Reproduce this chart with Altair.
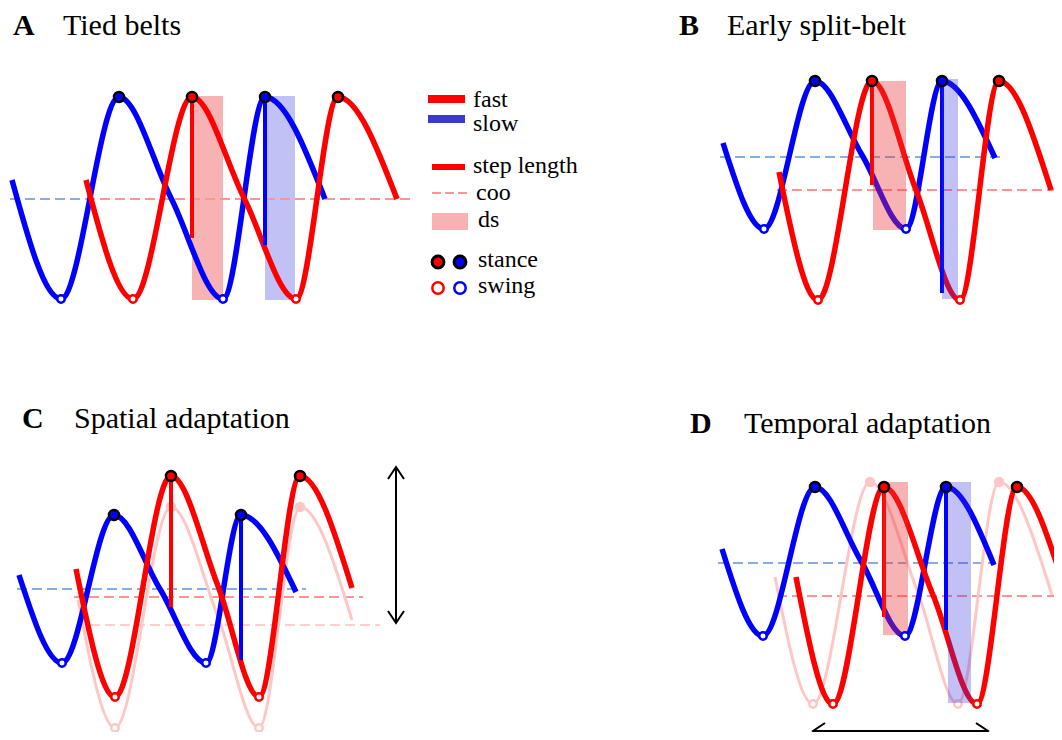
import altair as alt
import pandas as pd

FAST = "#ff0000"
SLOW = "#0000ff"
FADED = "#ffc6c6"
COO_SLOW = "#86aee6"
COO_FAST = "#ff9494"
COO_FADED = "#ffcfcf"
SERIF = "Liberation Serif"

# ---------------- curve key points (picture pixels) ----------------
A_slow_x = [12, 61, 119, 171, 223, 265, 325]
A_slow_y = [180, 299, 97, 198, 299, 97, 199]
A_fast_x = [86, 133, 192, 244, 296, 338, 397]
A_fast_y = [180, 299, 97, 198, 299, 97, 199]

B_slow_x = [723, 764, 815, 862, 906, 942, 995]
B_slow_y = [143, 229, 81, 155, 229, 81, 158]
B_fast_x = [779, 818, 872, 916, 960, 999, 1051]
B_fast_y = [172, 300, 81, 190, 300, 81, 190]

C_slow_x = [19, 62, 114, 160, 206, 241, 296]
C_slow_y = [575, 663, 515, 589, 663, 515, 592]
C_fast_x = [76, 115, 171, 218, 259, 300, 352]
C_fast_y = [569, 697, 476, 586, 697, 476, 588]
C_prev_x = [78, 115, 171, 218, 259, 300, 352]
C_prev_y = [600, 728, 507, 617, 728, 507, 620]

D_slow_x = [722, 763, 815, 861, 905, 946, 994]
D_slow_y = [549, 636, 487, 561, 636, 487, 565]
D_fast_x = [796, 833, 884, 933, 977, 1017, 1062]
D_fast_y = [577, 704, 487, 595, 704, 487, 580]
D_prev_x = [775, 813, 870, 918, 958, 999, 1052]
D_prev_y = [577, 704, 482, 593, 704, 482, 595]

# step length segments
step_x = [192, 265, 872, 942, 171, 241, 884, 946]
step_top = [97, 97, 81, 81, 476, 515, 487, 487]
step_bot = [238, 245, 185, 293, 607, 660, 617, 630]
step_leg = ["fast", "slow", "fast", "slow", "fast", "slow", "fast", "slow"]

# double support boxes
ds_x = [192, 265, 873, 942, 883, 948]
ds_x2 = [223, 295, 906, 958, 908, 971]
ds_y = [96, 96, 81, 79, 482, 482]
ds_y2 = [300, 300, 230, 299, 635, 703]
ds_leg = ["fast", "slow", "fast", "slow", "fast", "slow"]
ds_panel = ["A", "A", "B", "B", "D", "D"]

# centre of oscillation (dashed)
coo_x = [10, 85, 720, 777, 17, 74, 90, 718, 777]
coo_x2 = [328, 410, 1002, 1062, 306, 363, 380, 995, 1062]
coo_y = [199, 199, 157, 190, 589, 597, 625, 563, 596]
coo_kind = ["slow", "fast", "slow", "fast", "slow", "fast", "faded", "slow", "fast"]

# stance (peaks) and swing (troughs)
stance_x = [119, 192, 265, 338, 815, 872, 942, 999, 114, 171, 241, 300, 815, 884, 946, 1017]
stance_y = [97, 97, 97, 97, 81, 81, 81, 81, 515, 476, 515, 476, 487, 487, 487, 487]
stance_leg = ["slow", "fast"] * 8
swing_x = [61, 133, 223, 296, 764, 818, 906, 960, 62, 115, 206, 259, 763, 833, 905, 977]
swing_y = [299, 299, 299, 299, 229, 300, 229, 300, 663, 697, 663, 697, 636, 704, 636, 704]
swing_leg = ["slow", "fast"] * 8
prev_stance_x = [171, 300, 870, 999]
prev_stance_y = [507, 507, 482, 482]
prev_swing_x = [115, 259, 813, 958]
prev_swing_y = [728, 728, 704, 704]

# arrows
arrow_x = [396, 813]
arrow_x2 = [396, 988]
arrow_y = [467, 731]
arrow_y2 = [623, 731]

# titles
letters = ["A", "B", "C", "D"]
letter_x = [13, 679, 22, 690]
letter_y = [35, 35, 428, 433]
titles = ["Tied belts", "Early split-belt", "Spatial adaptation", "Temporal adaptation"]
title_x = [63, 727, 74, 744]
title_y = [35, 35, 428, 433]

# legend
leg_labels = ["fast", "slow", "step length", "coo", "ds", "stance", "swing"]
leg_label_x = [473, 473, 473, 476, 478, 478, 478]
leg_label_y = [107, 131, 173, 200, 227, 267, 293]

COLORS = {"fast": FAST, "slow": SLOW, "faded": FADED}
COO_COLORS = {"fast": COO_FAST, "slow": COO_SLOW, "faded": COO_FADED}

W, H = 1046, 724
XS = alt.Scale(domain=[8, 8 + W], nice=False, zero=False)
YS = alt.Scale(domain=[8, 8 + H], nice=False, zero=False, reverse=True)


def X(f="x"):
    return alt.X(f"{f}:Q", scale=XS, axis=None)


def Y(f="y"):
    return alt.Y(f"{f}:Q", scale=YS, axis=None)


def curve_df(items):
    rows = []
    for cid, xs, ys, col in items:
        for i, (x, y) in enumerate(zip(xs, ys)):
            rows.append({"cid": cid, "x": x, "y": y, "col": col, "o": i})
    return pd.DataFrame(rows)


main_df = curve_df([
    ("A_slow", A_slow_x, A_slow_y, SLOW), ("A_fast", A_fast_x, A_fast_y, FAST),
    ("B_slow", B_slow_x, B_slow_y, SLOW), ("B_fast", B_fast_x, B_fast_y, FAST),
    ("C_slow", C_slow_x, C_slow_y, SLOW), ("C_fast", C_fast_x, C_fast_y, FAST),
    ("D_slow", D_slow_x, D_slow_y, SLOW), ("D_fast", D_fast_x, D_fast_y, FAST),
])
prev_df = curve_df([
    ("C_prev", C_prev_x, C_prev_y, FADED), ("D_prev", D_prev_x, D_prev_y, FADED),
])

ds_df = pd.DataFrame({"x": ds_x, "x2": ds_x2, "y": ds_y, "y2": ds_y2, "leg": ds_leg, "panel": ds_panel})
ds_df["col"] = ds_df["leg"].map({"fast": "#e83030", "slow": "#3333dd"})
ds_df["op"] = ds_df["leg"].map({"fast": 0.37, "slow": 0.3})

coo_df = pd.DataFrame({"x": coo_x, "x2": coo_x2, "y": coo_y, "kind": coo_kind})
coo_df["col"] = coo_df["kind"].map(COO_COLORS)

step_df = pd.DataFrame({"x": step_x, "y": step_top, "y2": step_bot, "leg": step_leg})
step_df["col"] = step_df["leg"].map(COLORS)

stance_df = pd.DataFrame({"x": stance_x, "y": stance_y, "leg": stance_leg})
stance_df["col"] = stance_df["leg"].map(COLORS)
swing_df = pd.DataFrame({"x": swing_x, "y": swing_y, "leg": swing_leg})
swing_df["col"] = swing_df["leg"].map(COLORS)
pst_df = pd.DataFrame({"x": prev_stance_x, "y": prev_stance_y})
psw_df = pd.DataFrame({"x": prev_swing_x, "y": prev_swing_y})

arrow_df = pd.DataFrame({"x": arrow_x, "x2": arrow_x2, "y": arrow_y, "y2": arrow_y2})
UP = "M-1,1.5L0,0L1,1.5"
DOWN = "M-1,-1.5L0,0L1,-1.5"
LEFT = "M1.5,-1L0,0L1.5,1"
RIGHT = "M-1.5,-1L0,0L-1.5,1"
head_df = pd.DataFrame({
    "x": [arrow_x[0], arrow_x2[0], arrow_x[1], arrow_x2[1]],
    "y": [arrow_y[0], arrow_y2[0], arrow_y[1], arrow_y2[1]],
    "shape": [UP, DOWN, LEFT, RIGHT],
})

letter_df = pd.DataFrame({"x": letter_x, "y": letter_y, "t": letters})
title_df = pd.DataFrame({"x": title_x, "y": title_y, "t": titles})
leg_text_df = pd.DataFrame({"x": leg_label_x, "y": leg_label_y, "t": leg_labels})

leg_bar_df = pd.DataFrame({
    "x": [428, 428, 432], "x2": [465, 465, 465], "y": [99, 119, 167],
    "col": [FAST, "#3a3acc", FAST], "w": [8, 8, 6],
})
leg_coo_df = pd.DataFrame({"x": [432], "x2": [467], "y": [193]})
leg_ds_df = pd.DataFrame({"x": [432], "x2": [468], "y": [213], "y2": [230]})
leg_stance_df = pd.DataFrame({"x": [438, 460], "y": [262, 262], "col": [FAST, SLOW]})
leg_swing_df = pd.DataFrame({"x": [438, 460], "y": [288, 288], "col": [FAST, SLOW]})

layers = []

# double support boxes under curves (panel A)
ds_rect = alt.Chart(ds_df).mark_rect().encode(
    x=X(), x2="x2:Q", y=Y(), y2="y2:Q",
    fill=alt.Fill("col:N", scale=None), opacity=alt.Opacity("op:Q", scale=None))
layers.append(ds_rect.transform_filter(alt.datum.panel == "A"))

layers.append(alt.Chart(coo_df).mark_rule(strokeDash=[10, 5], strokeWidth=2).encode(
    x=X(), x2="x2:Q", y=Y(), color=alt.Color("col:N", scale=None)))

layers.append(alt.Chart(prev_df).mark_line(interpolate="monotone", strokeWidth=3).encode(
    x=X(), y=Y(), detail="cid:N", order="o:Q", color=alt.Color("col:N", scale=None)))
layers.append(alt.Chart(pst_df).mark_point(shape="circle", filled=True, size=110, opacity=1, color=FADED).encode(
    x=X(), y=Y()))
layers.append(alt.Chart(psw_df).mark_point(shape="circle", filled=True, size=56, opacity=1, fill="white",
                                            stroke=FADED, strokeWidth=2.5).encode(x=X(), y=Y()))

layers.append(alt.Chart(main_df).mark_line(interpolate="monotone", strokeWidth=5.5).encode(
    x=X(), y=Y(), detail="cid:N", order="o:Q", color=alt.Color("col:N", scale=None)))

layers.append(alt.Chart(step_df).mark_rule(strokeWidth=4).encode(
    x=X(), y=Y(), y2="y2:Q", color=alt.Color("col:N", scale=None)))

layers.append(ds_rect.transform_filter(alt.datum.panel != "A"))

layers.append(alt.Chart(stance_df).mark_point(shape="circle", filled=True, size=100, opacity=1,
                                               stroke="black", strokeWidth=2.5).encode(
    x=X(), y=Y(), fill=alt.Fill("col:N", scale=None)))
layers.append(alt.Chart(swing_df).mark_point(shape="circle", filled=True, size=56, opacity=1,
                                              fill="white", strokeWidth=2.5).encode(
    x=X(), y=Y(), stroke=alt.Stroke("col:N", scale=None)))

# arrows
layers.append(alt.Chart(arrow_df).mark_rule(strokeWidth=2, color="black").encode(
    x=X(), x2="x2:Q", y=Y(), y2="y2:Q"))
layers.append(alt.Chart(head_df).mark_point(filled=False, size=256, opacity=1, color="black",
                                             strokeWidth=2).encode(
    x=X(), y=Y(), shape=alt.Shape("shape:N", scale=None)))

# legend
layers.append(alt.Chart(leg_bar_df).mark_rule().encode(
    x=X(), x2="x2:Q", y=Y(), color=alt.Color("col:N", scale=None),
    strokeWidth=alt.StrokeWidth("w:Q", scale=None)))
layers.append(alt.Chart(leg_coo_df).mark_rule(strokeDash=[9, 4], strokeWidth=2, color=COO_FAST).encode(
    x=X(), x2="x2:Q", y=Y()))
layers.append(alt.Chart(leg_ds_df).mark_rect(fill="#e83030", opacity=0.37).encode(
    x=X(), x2="x2:Q", y=Y(), y2="y2:Q"))
layers.append(alt.Chart(leg_stance_df).mark_point(shape="circle", filled=True, size=140, opacity=1,
                                                   stroke="black", strokeWidth=3).encode(
    x=X(), y=Y(), fill=alt.Fill("col:N", scale=None)))
layers.append(alt.Chart(leg_swing_df).mark_point(shape="circle", filled=True, size=130, opacity=1,
                                                  fill="white", strokeWidth=2.5).encode(
    x=X(), y=Y(), stroke=alt.Stroke("col:N", scale=None)))
layers.append(alt.Chart(leg_text_df).mark_text(align="left", baseline="alphabetic", font=SERIF,
                                                fontSize=24, color="black").encode(
    x=X(), y=Y(), text="t:N"))

# titles
layers.append(alt.Chart(letter_df).mark_text(align="left", baseline="alphabetic", font=SERIF,
                                              fontSize=30, fontWeight="bold", color="black").encode(
    x=X(), y=Y(), text="t:N"))
layers.append(alt.Chart(title_df).mark_text(align="left", baseline="alphabetic", font=SERIF,
                                             fontSize=30, color="black").encode(
    x=X(), y=Y(), text="t:N"))

chart = alt.layer(*layers).properties(
    width=W, height=H, padding=0, autosize="none"
).configure_view(stroke=None)

chart.save("out.html", embed_options={"renderer": "svg", "actions": False})
